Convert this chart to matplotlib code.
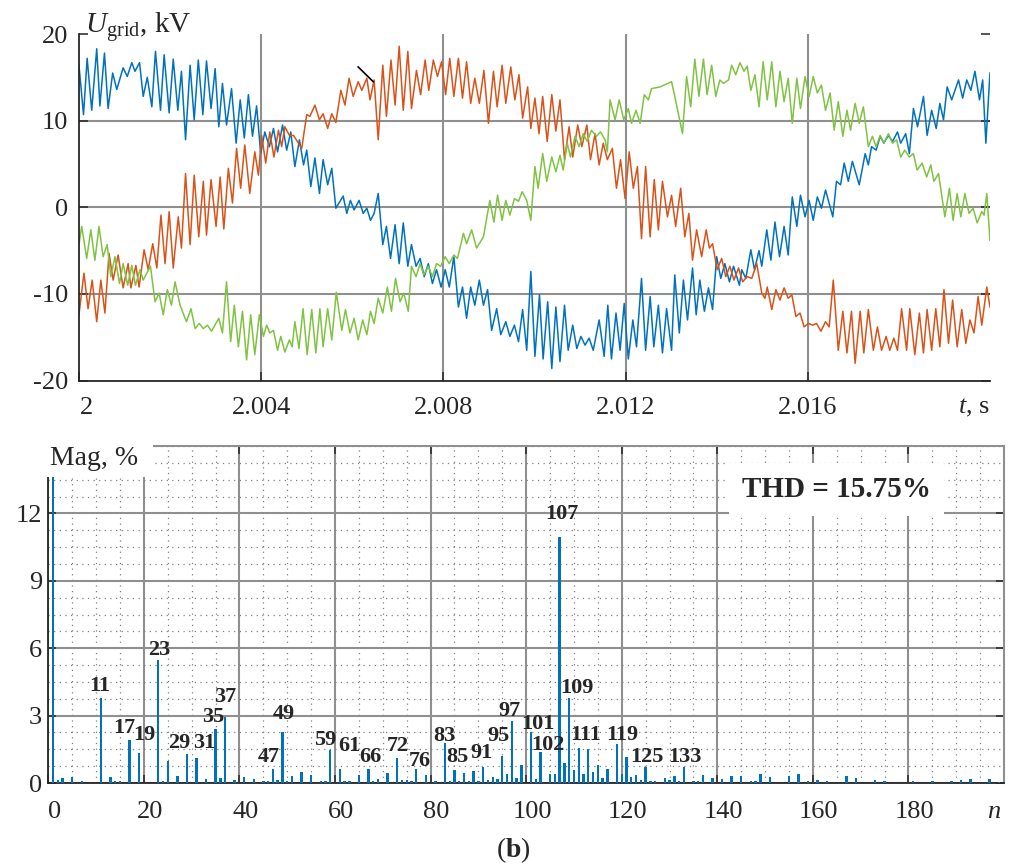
import numpy as np
import matplotlib
matplotlib.use("Agg")
import matplotlib.pyplot as plt
from matplotlib.patches import Rectangle
from matplotlib.ticker import MultipleLocator
from matplotlib.transforms import ScaledTranslation

plt.rcParams['font.family'] = ['Liberation Serif', 'DejaVu Serif']
plt.rcParams['mathtext.fontset'] = 'custom'
plt.rcParams['mathtext.rm'] = 'Liberation Serif'
plt.rcParams['mathtext.it'] = 'Liberation Serif:italic'
plt.rcParams['mathtext.bf'] = 'Liberation Serif:bold'
plt.rcParams['axes.unicode_minus'] = False

# ---- (a) grid voltage: (time after 2 s in ms, kV) ----
phase_a = [
    (0.00, 16.4), (0.10, 10.7), (0.18, 17.2), (0.28, 11.2), (0.39, 18.3), (0.46, 11.7),
    (0.56, 17.8), (0.64, 11.4), (0.74, 15.5), (0.83, 13.6), (0.97, 16.1), (1.06, 15.1),
    (1.16, 16.7), (1.23, 15.7), (1.33, 16.7), (1.41, 12.8), (1.50, 15.0), (1.60, 11.6),
    (1.68, 18.0), (1.79, 11.2), (1.87, 17.6), (1.98, 10.9), (2.07, 17.1), (2.17, 11.2),
    (2.25, 15.7), (2.34, 7.8), (2.44, 16.4), (2.53, 10.1), (2.62, 17.0), (2.72, 10.7),
    (2.80, 16.9), (2.90, 11.4), (2.99, 16.0), (3.07, 9.3), (3.15, 14.3), (3.24, 9.5),
    (3.35, 13.7), (3.45, 7.4), (3.54, 12.4), (3.63, 8.0), (3.72, 13.0), (3.81, 8.2),
    (3.90, 11.7), (3.99, 6.2), (4.08, 8.7), (4.18, 7.0), (4.27, 9.1), (4.36, 6.4),
    (4.47, 9.5), (4.56, 6.6), (4.65, 8.7), (4.74, 4.7), (4.84, 7.8), (4.93, 4.9),
    (5.00, 6.6), (5.09, 2.4), (5.18, 5.7), (5.28, 1.6), (5.36, 5.5), (5.46, 2.6),
    (5.55, 4.5), (5.64, -0.1), (5.80, 1.3), (5.88, -0.7), (5.96, 0.8), (6.04, -0.3),
    (6.15, 0.8), (6.24, -0.7), (6.32, -0.1), (6.40, -1.5), (6.48, -0.7), (6.57, 1.6),
    (6.67, -4.3), (6.75, -2.2), (6.84, -5.9), (6.94, -2.0), (7.03, -6.5), (7.12, -1.8),
    (7.22, -6.8), (7.30, -4.3), (7.40, -6.8), (7.49, -5.9), (7.58, -8.0), (7.67, -6.5),
    (7.76, -8.8), (7.85, -7.2), (7.95, -9.2), (8.04, -7.2), (8.13, -9.2), (8.23, -5.7),
    (8.33, -11.5), (8.42, -9.2), (8.51, -12.8), (8.60, -9.2), (8.69, -11.3), (8.79, -8.4),
    (8.88, -11.3), (8.97, -9.5), (9.06, -14.2), (9.17, -11.7), (9.26, -14.7), (9.37, -13.2),
    (9.46, -14.9), (9.56, -13.6), (9.65, -15.5), (9.74, -11.8), (9.83, -16.5), (9.92, -7.4),
    (10.01, -17.2), (10.11, -10.1), (10.19, -17.5), (10.29, -10.9), (10.38, -18.6),
    (10.47, -11.5), (10.56, -17.8), (10.66, -11.3), (10.74, -16.5), (10.84, -13.6),
    (10.93, -16.3), (11.02, -14.9), (11.11, -15.9), (11.20, -15.1), (11.29, -16.5),
    (11.42, -13.0), (11.53, -17.2), (11.61, -11.3), (11.69, -17.5), (11.79, -12.2),
    (11.88, -16.5), (11.97, -11.1), (12.06, -17.5), (12.16, -13.0), (12.24, -16.1),
    (12.35, -8.2), (12.44, -16.5), (12.54, -10.3), (12.62, -16.1), (12.72, -11.3),
    (12.81, -16.8), (12.90, -11.7), (13.01, -16.5), (13.08, -7.8), (13.18, -14.5),
    (13.27, -8.4), (13.36, -13.0), (13.47, -7.0), (13.55, -12.4), (13.63, -8.4),
    (13.73, -12.0), (13.82, -9.3), (13.91, -11.8), (14.00, -5.7), (14.09, -8.2),
    (14.18, -6.5), (14.28, -8.6), (14.37, -6.8), (14.50, -9.0), (14.55, -7.2),
    (14.64, -8.2), (14.75, -4.9), (14.83, -7.2), (14.93, -5.0), (14.99, -6.8),
    (15.10, -2.6), (15.19, -6.1), (15.28, -1.7), (15.38, -5.7), (15.48, -2.2),
    (15.57, -5.5), (15.66, 1.2), (15.76, -2.2), (15.84, 1.4), (15.94, -1.1), (16.03, 0.8),
    (16.12, -1.5), (16.21, 1.2), (16.30, -0.1), (16.39, 2.0), (16.55, -1.1), (16.63, 3.0),
    (16.72, 2.6), (16.80, 5.1), (16.89, 3.0), (16.98, 5.3), (17.13, 2.6), (17.26, 6.2),
    (17.33, 4.9), (17.40, 7.0), (17.50, 6.6), (17.59, 8.2), (17.67, 7.4), (17.77, 8.3),
    (17.86, 7.6), (17.97, 8.7), (18.04, 7.4), (18.15, 8.5), (18.23, 6.2), (18.32, 11.4),
    (18.41, 9.3), (18.54, 12.8), (18.62, 8.3), (18.72, 11.2), (18.82, 9.1), (18.90, 12.0),
    (18.98, 10.1), (19.06, 13.9), (19.16, 12.4), (19.31, 14.7), (19.40, 12.6),
    (19.49, 14.7), (19.58, 13.5), (19.67, 15.7), (19.77, 12.4), (19.84, 14.7),
    (19.91, 7.4), (20.00, 15.5),
]

phase_b = [
    (0.00, -12.4), (0.11, -7.6), (0.20, -11.7), (0.29, -8.4), (0.39, -13.2), (0.48, -8.4),
    (0.57, -12.2), (0.66, -5.3), (0.75, -8.4), (0.86, -5.5), (0.97, -9.3), (1.08, -6.5),
    (1.14, -9.3), (1.25, -6.7), (1.32, -9.2), (1.43, -4.9), (1.52, -7.2), (1.62, -4.2),
    (1.71, -7.0), (1.80, -0.9), (1.89, -6.5), (1.98, -0.5), (2.07, -7.0), (2.18, -1.1),
    (2.25, -4.7), (2.34, 3.9), (2.44, -4.3), (2.53, 3.7), (2.63, -3.4), (2.73, 3.0),
    (2.80, -3.2), (2.90, 3.2), (3.01, -2.2), (3.10, 3.5), (3.18, -2.5), (3.28, 4.5),
    (3.37, 0.5), (3.46, 6.8), (3.55, 2.2), (3.64, 7.2), (3.75, 1.6), (3.86, 6.4),
    (3.94, 3.7), (4.01, 8.3), (4.10, 5.1), (4.19, 8.7), (4.28, 5.8), (4.38, 8.9),
    (4.45, 7.0), (4.52, 9.3), (4.62, 8.3), (4.71, 8.3), (4.89, 6.8), (5.00, 10.7),
    (5.07, 10.5), (5.18, 11.8), (5.28, 10.1), (5.36, 10.8), (5.46, 9.1), (5.55, 10.8),
    (5.64, 9.8), (5.75, 13.5), (5.84, 11.8), (5.93, 14.9), (6.02, 12.8), (6.13, 14.5),
    (6.21, 13.5), (6.32, 14.9), (6.39, 12.4), (6.48, 14.7), (6.57, 7.8), (6.67, 16.4),
    (6.75, 10.5), (6.85, 17.0), (6.94, 11.8), (7.03, 18.6), (7.12, 11.2), (7.22, 18.0),
    (7.30, 11.4), (7.41, 15.8), (7.50, 13.0), (7.60, 17.0), (7.68, 13.5), (7.78, 17.0),
    (7.87, 15.1), (7.96, 16.8), (8.05, 13.0), (8.14, 17.2), (8.23, 12.8), (8.33, 17.2),
    (8.42, 12.6), (8.51, 16.8), (8.60, 12.0), (8.69, 14.9), (8.79, 12.0), (8.89, 15.8),
    (8.99, 9.7), (9.10, 15.7), (9.18, 11.6), (9.29, 16.4), (9.37, 12.0), (9.48, 16.2),
    (9.57, 12.4), (9.66, 15.3), (9.74, 10.3), (9.85, 13.9), (9.92, 9.1), (10.01, 12.6),
    (10.10, 8.5), (10.18, 12.8), (10.28, 7.6), (10.38, 13.0), (10.47, 8.8), (10.56, 12.4),
    (10.66, 5.5), (10.76, 9.3), (10.84, 5.8), (10.95, 9.5), (11.04, 7.0), (11.15, 9.5),
    (11.23, 5.5), (11.33, 8.5), (11.42, 4.9), (11.51, 7.4), (11.60, 5.5), (11.71, 6.8),
    (11.80, 2.2), (11.89, 5.5), (11.99, 1.0), (12.08, 6.4), (12.17, 2.2), (12.26, 4.7),
    (12.35, -3.6), (12.44, 4.7), (12.54, -3.4), (12.63, 3.2), (12.72, -2.6), (12.81, 3.0),
    (12.92, -1.1), (13.01, 1.4), (13.10, -2.2), (13.21, 2.2), (13.30, -3.4), (13.39, -0.7),
    (13.47, -6.1), (13.56, -2.6), (13.67, -5.7), (13.77, -2.6), (13.84, -4.7),
    (13.91, -4.2), (14.01, -7.2), (14.11, -5.9), (14.20, -8.0), (14.29, -6.8),
    (14.38, -8.4), (14.48, -7.0), (14.57, -8.6), (14.67, -8.0), (14.77, -8.2),
    (14.88, -6.5), (14.99, -9.9), (15.06, -10.5), (15.11, -9.2), (15.21, -11.8),
    (15.30, -9.5), (15.39, -10.7), (15.48, -9.3), (15.57, -10.5), (15.65, -10.1),
    (15.74, -12.6), (15.83, -12.2), (15.92, -13.8), (16.01, -13.4), (16.11, -13.6),
    (16.19, -13.4), (16.29, -14.3), (16.39, -13.2), (16.47, -13.8), (16.56, -8.4),
    (16.67, -16.5), (16.77, -12.0), (16.86, -16.8), (16.96, -12.0), (17.04, -18.0),
    (17.15, -12.0), (17.23, -16.8), (17.33, -11.8), (17.44, -16.5), (17.53, -13.8),
    (17.62, -16.5), (17.72, -14.9), (17.80, -16.5), (17.89, -15.1), (17.97, -16.5),
    (18.06, -11.7), (18.17, -16.5), (18.24, -11.7), (18.35, -17.0), (18.45, -12.2),
    (18.54, -16.8), (18.62, -11.8), (18.72, -16.5), (18.81, -11.7), (18.90, -16.1),
    (18.99, -9.5), (19.09, -15.7), (19.18, -10.7), (19.28, -16.1), (19.38, -11.8),
    (19.47, -15.7), (19.56, -13.0), (19.65, -14.5), (19.74, -10.3), (19.82, -13.6),
    (19.93, -9.2), (20.00, -11.5),
]

phase_c = [
    (0.00, -4.3), (0.06, -2.2), (0.17, -5.9), (0.26, -2.6), (0.35, -6.1), (0.44, -2.2),
    (0.53, -5.7), (0.62, -4.3), (0.70, -8.0), (0.79, -5.7), (0.89, -8.8), (0.97, -6.5),
    (1.07, -9.0), (1.16, -6.7), (1.24, -9.0), (1.34, -7.2), (1.41, -8.4), (1.57, -6.8),
    (1.67, -10.9), (1.76, -9.9), (1.85, -12.4), (1.94, -9.5), (2.03, -11.3), (2.11, -8.6),
    (2.22, -11.3), (2.36, -13.2), (2.46, -11.7), (2.55, -14.0), (2.64, -13.4),
    (2.73, -14.0), (2.82, -13.6), (2.91, -14.3), (3.07, -12.8), (3.15, -14.5),
    (3.24, -8.6), (3.33, -15.5), (3.41, -11.3), (3.50, -16.1), (3.59, -12.0),
    (3.68, -17.6), (3.77, -12.4), (3.86, -17.0), (3.96, -12.4), (4.05, -14.9),
    (4.12, -13.6), (4.19, -14.5), (4.27, -14.2), (4.36, -16.5), (4.43, -14.9),
    (4.52, -16.7), (4.62, -15.3), (4.68, -16.1), (4.74, -13.2), (4.83, -16.3),
    (4.92, -11.7), (5.01, -17.0), (5.11, -11.8), (5.20, -16.8), (5.29, -11.7),
    (5.36, -16.1), (5.46, -11.7), (5.55, -15.3), (5.65, -9.8), (5.77, -14.2),
    (5.85, -11.8), (5.95, -14.5), (6.04, -12.8), (6.13, -15.3), (6.23, -13.0),
    (6.32, -14.7), (6.40, -12.0), (6.48, -13.4), (6.57, -10.5), (6.67, -12.2),
    (6.77, -9.2), (6.86, -12.0), (6.95, -8.2), (7.05, -10.9), (7.13, -9.9), (7.23, -12.0),
    (7.30, -6.8), (7.40, -8.0), (7.49, -6.5), (7.57, -7.8), (7.67, -6.8), (7.76, -8.0),
    (7.85, -6.5), (7.94, -6.8), (8.04, -5.7), (8.13, -6.5), (8.23, -5.5), (8.31, -5.9),
    (8.44, -3.0), (8.51, -4.2), (8.62, -2.6), (8.73, -4.7), (8.88, -3.4), (9.02, 0.8),
    (9.11, -1.7), (9.19, 1.4), (9.29, -1.5), (9.37, 0.8), (9.46, -0.9), (9.56, 1.0),
    (9.65, 0.7), (9.73, 1.8), (9.83, 0.8), (9.92, -1.5), (10.01, 4.7), (10.08, 2.2),
    (10.18, 6.2), (10.27, 3.0), (10.38, 5.8), (10.47, 4.1), (10.56, 6.0), (10.63, 4.3),
    (10.72, 7.4), (10.79, 5.8), (10.89, 8.2), (10.98, 7.0), (11.07, 8.5), (11.16, 7.6),
    (11.25, 8.9), (11.36, 8.2), (11.45, 8.7), (11.55, 7.8), (11.60, 6.4), (11.66, 12.4),
    (11.77, 10.1), (11.86, 12.4), (11.96, 10.1), (12.06, 11.4), (12.13, 9.7),
    (12.23, 11.2), (12.32, 9.7), (12.41, 13.0), (12.50, 12.4), (12.57, 13.7),
    (12.76, 13.9), (13.01, 14.5), (13.08, 12.8), (13.25, 8.5), (13.34, 15.1),
    (13.43, 11.6), (13.52, 17.1), (13.61, 12.8), (13.71, 17.1), (13.79, 13.0),
    (13.89, 16.4), (13.98, 12.8), (14.07, 14.7), (14.15, 14.3), (14.26, 14.7),
    (14.33, 16.4), (14.42, 15.3), (14.51, 16.7), (14.60, 15.7), (14.67, 16.3),
    (14.75, 13.5), (14.84, 15.3), (14.93, 11.6), (15.02, 16.8), (15.11, 12.4),
    (15.21, 16.8), (15.30, 11.6), (15.39, 15.7), (15.48, 12.2), (15.57, 14.9),
    (15.66, 9.7), (15.76, 14.9), (15.84, 11.4), (15.94, 15.1), (16.03, 12.8),
    (16.12, 15.1), (16.21, 13.2), (16.30, 14.1), (16.39, 11.2), (16.49, 13.2),
    (16.58, 8.9), (16.67, 12.2), (16.77, 8.2), (16.86, 11.2), (16.94, 8.9), (17.04, 12.0),
    (17.13, 9.7), (17.22, 11.6), (17.33, 7.0), (17.42, 8.2), (17.50, 7.0), (17.59, 8.3),
    (17.67, 7.4), (17.77, 8.5), (17.86, 7.4), (17.95, 7.8), (18.04, 5.8), (18.13, 6.6),
    (18.23, 5.8), (18.32, 6.2), (18.40, 4.3), (18.51, 5.1), (18.61, 3.5), (18.70, 4.9),
    (18.77, 3.0), (18.87, 3.9), (19.01, -1.1), (19.11, 2.2), (19.19, -1.5), (19.28, 1.6),
    (19.36, -1.1), (19.45, 1.6), (19.54, -0.7), (19.63, -0.1), (19.72, -1.8),
    (19.82, -0.5), (19.87, -0.9), (19.93, 1.6), (20.00, -3.8),
]

# short black stroke that sits on the red trace
stroke_ms = [6.13, 6.46]
stroke_kv = [16.2, 14.5]

t_ticks = [2.0, 2.004, 2.008, 2.012, 2.016]
t_labels = ['2', '2.004', '2.008', '2.012', '2.016']
u_ticks = [-20, -10, 0, 10, 20]

# ---- (b) harmonic spectrum ----
harm_n = [1, 2, 3, 5, 7, 11, 13, 14, 15, 17, 19, 23, 24, 25, 27, 29, 31, 33, 35, 36,
          37, 39, 41, 43, 45, 46, 47, 48, 49, 50, 51, 53, 55, 57, 58, 59, 61, 62, 63, 65,
          67, 68, 69, 71, 73, 74, 75, 76, 77, 79, 81, 83, 84, 85, 86, 87, 88, 89, 90, 91,
          92, 93, 94, 95, 96, 97, 98, 99, 101, 102, 103, 105, 106, 107, 108, 109, 110, 111,
          112, 113, 114, 115, 116, 117, 119, 120, 121, 122, 123, 124, 125, 126, 127, 129,
          130, 131, 132, 133, 135, 136, 137, 139, 141, 143, 145, 147, 148, 149, 151, 155,
          157, 159, 161, 163, 167, 169, 173, 175, 181, 185, 189, 191, 193, 197, 199]
harm_mag = [100, 0.12, 0.24, 0.28, 0.09, 3.79, 0.28, 0.10, 0.10, 1.92, 1.34, 5.46, 0.10,
            1.00, 0.30, 1.28, 1.11, 0.18, 2.41, 0.24, 2.93, 0.15, 0.25, 0.20, 0.10, 0.10,
            0.62, 0.15, 2.25, 0.10, 0.30, 0.51, 0.35, 0.09, 0.09, 1.45, 0.63, 0.07, 0.10,
            0.34, 0.64, 0.10, 0.19, 0.43, 1.13, 0.15, 0.15, 0.09, 0.62, 0.37, 0.07, 1.78,
            0.09, 0.56, 0.09, 0.46, 0.09, 0.53, 0.09, 0.71, 0.15, 0.27, 0.19, 1.22, 0.39,
            2.78, 0.22, 0.80, 2.26, 0.18, 1.37, 0.40, 0.40, 10.95, 0.91, 3.79, 0.56, 1.56,
            0.42, 1.53, 0.50, 0.80, 0.24, 0.64, 1.75, 0.39, 1.14, 0.28, 0.37, 0.15, 0.70,
            0.09, 0.09, 0.24, 0.15, 0.30, 0.10, 0.70, 0.10, 0.10, 0.37, 0.24, 0.19, 0.30,
            0.33, 0.10, 0.10, 0.42, 0.27, 0.33, 0.40, 0.10, 0.15, 0.10, 0.30, 0.22, 0.15,
            0.07, 0.09, 0.10, 0.10, 0.15, 0.16, 0.16, 0.05]

# bar labels as printed in the figure, with where they sit (n, Mag)
peak_text = ['11', '17', '19', '23', '29', '31', '35', '37', '47', '49', '59', '61',
             '66', '72', '76', '83', '85', '91', '95', '97', '101', '102', '107', '109',
             '111', '119', '125', '133']
peak_pos = [(10.8, 4.33), (15.8, 2.46), (20.2, 2.12), (23.2, 5.94), (27.3, 1.79),
            (32.6, 1.79), (34.5, 2.95), (37.0, 3.84), (46.2, 1.16), (49.3, 3.08),
            (58.0, 1.92), (62.9, 1.65), (67.3, 1.16), (73.2, 1.65), (77.8, 0.98),
            (82.8, 2.10), (85.7, 1.16), (90.7, 1.34), (94.3, 2.10), (96.6, 3.21),
            (102.5, 2.63), (104.5, 1.70), (107.5, 11.96), (110.6, 4.24), (112.5, 2.14),
            (120.2, 2.14), (125.2, 1.16), (133.2, 1.16)]
thd_text = 'THD = 15.75%'

C_A, C_B, C_C = '#0072BD', '#D95319', '#80C342'
DARK, GRID = '#262626', '#8f8f8f'

fig = plt.figure(figsize=(10.11, 8.68), dpi=100)

# ---------------- top: U_grid ----------------
ax1 = fig.add_axes([0.0781, 0.5615, 0.9011, 0.3993])
for x in t_ticks[1:]:
    ax1.axvline(x, color=GRID, lw=1.5, zorder=0)
for y in u_ticks[1:-1]:
    ax1.axhline(y, color=GRID, lw=1.5, zorder=0)

for pts, c in ((phase_a, C_A), (phase_b, C_B), (phase_c, C_C)):
    ms, kv = np.array(pts).T
    ax1.plot(2 + ms / 1000, kv, color=c, lw=1.1, zorder=2,
             solid_joinstyle='round')
ax1.plot(2 + np.array(stroke_ms) / 1000, stroke_kv, color='k', lw=1.2, zorder=3)

ax1.set_xlim(2, 2.02)
ax1.set_ylim(-20, 20)
ax1.set_xticks(t_ticks)
ax1.set_xticklabels(t_labels)
ax1.set_yticks(u_ticks)
ax1.set_yticklabels([str(v) for v in u_ticks])
for side in ('top', 'right'):
    ax1.spines[side].set_visible(False)
for side in ('left', 'bottom'):
    ax1.spines[side].set_color(DARK)
    ax1.spines[side].set_linewidth(1.3)
ax1.tick_params(direction='in', length=6.5, width=1.1, colors=DARK, labelsize=19,
                right=True, top=False)
ax1.tick_params(axis='x', pad=12)
ax1.tick_params(axis='y', pad=7.5)
first = ax1.get_xticklabels()[0]
first.set_transform(first.get_transform() + ScaledTranslation(0.08, 0, fig.dpi_scale_trans))
ax1.annotate('$t$, s', xy=(1, 0), xycoords='axes fraction', xytext=(0, -12),
             textcoords='offset points', ha='right', va='top', fontsize=19, color=DARK)
fig.text(0.084, 0.962, r'$U_{\mathrm{grid}}$, kV', fontsize=21, color=DARK, va='baseline')

# ---------------- bottom: spectrum ----------------
ax2 = fig.add_axes([0.0478, 0.0979, 0.9453, 0.3882])
ax2.set_axisbelow(True)
ax2.bar(harm_n, harm_mag, width=0.5, color=C_A, zorder=3)
ax2.set_xlim(0, 200)
ax2.set_ylim(0, 15)
ax2.set_xticks(range(0, 181, 20))
ax2.set_yticks([0, 3, 6, 9, 12])
ax2.xaxis.set_minor_locator(MultipleLocator(5))
ax2.yaxis.set_minor_locator(MultipleLocator(0.75))
ax2.grid(which='major', color=GRID, lw=1.5)
ax2.grid(which='minor', color='#808080', lw=0.9, linestyle=(0, (1, 3.5)))
ax2.tick_params(which='minor', length=0)
ax2.tick_params(which='major', direction='in', length=6, width=1.1, colors=DARK,
                labelsize=19, top=True, right=True)
ax2.tick_params(axis='x', pad=13)
ax2.tick_params(axis='y', pad=4.5)
for side in ('left', 'bottom'):
    ax2.spines[side].set_color(DARK)
    ax2.spines[side].set_linewidth(1.3)
for side in ('top', 'right'):
    ax2.spines[side].set_color(GRID)
    ax2.spines[side].set_linewidth(1.5)
shift = ScaledTranslation(0.06, 0, fig.dpi_scale_trans)
for lab in ax2.get_xticklabels():
    lab.set_transform(lab.get_transform() + shift)
ax2.annotate('$n$', xy=(1, 0), xycoords='axes fraction', xytext=(-2, -13),
             textcoords='offset points', ha='right', va='top', fontsize=19, color=DARK)

for txt, (x, y) in zip(peak_text, peak_pos):
    ax2.text(x, y, txt, ha='center', va='center', fontsize=16, fontweight='bold',
             color=DARK, zorder=4)
ax2.text(164.9, 13.06, thd_text, ha='center', va='center', fontsize=21,
         fontweight='bold', color=DARK, zorder=4,
         bbox=dict(boxstyle='square,pad=0.45', fc='white', ec='none'))

# white patch behind the axis title, as in the original
fig.add_artist(Rectangle((0, 1 - 477 / 868), 153 / 1011, 47 / 868,
                         transform=fig.transFigure, fc='white', ec='none', zorder=5))
fig.text(50 / 1011, 1 - 465 / 868, 'Mag, %', fontsize=20, color=DARK,
         va='baseline', zorder=6)

fig.text(0.508, 1 - 850 / 868, r'($\mathbf{b}$)', ha='center', va='center',
         fontsize=20, color=DARK)

fig.savefig('out.png', dpi=100)
